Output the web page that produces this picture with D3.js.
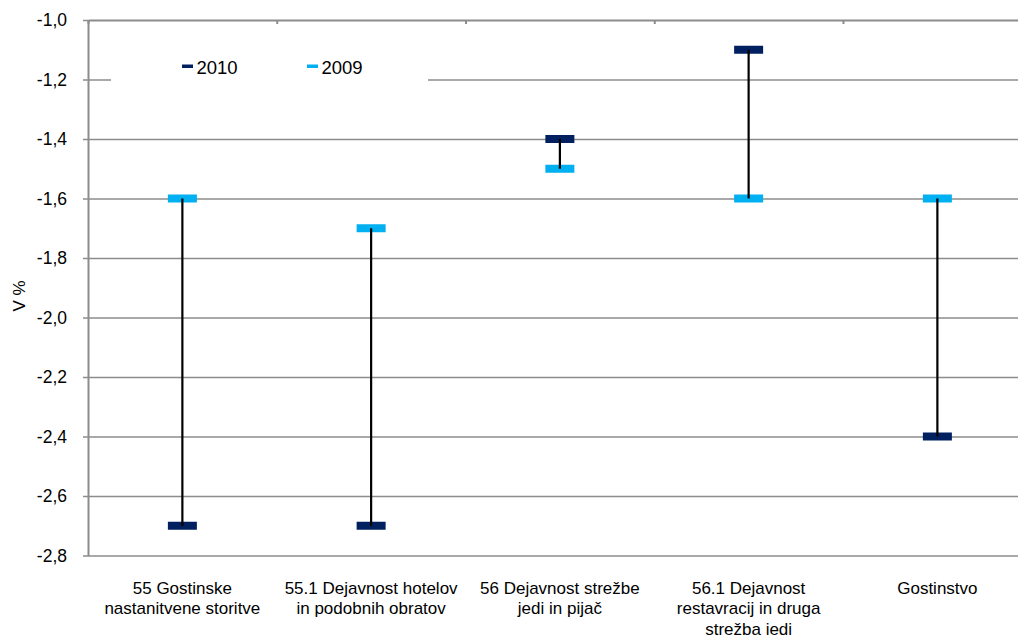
<!DOCTYPE html>
<html>
<head>
<meta charset="utf-8">
<script src="https://cdn.jsdelivr.net/npm/d3@7"></script>
<style>
  html, body { margin: 0; padding: 0; background: #fff; }
  svg { display: block; font-family: "Liberation Sans", Arial, sans-serif; }
</style>
</head>
<body>
<svg id="chart" width="1018" height="635"></svg>
<script>
// ---- data ----
const categories = [
  "55 Gostinske\nnastanitvene storitve",
  "55.1 Dejavnost hotelov\nin podobnih obratov",
  "56 Dejavnost strežbe\njedi in pijač",
  "56.1 Dejavnost\nrestavracij in druga\nstrežba jedi",
  "Gostinstvo"
];
const values2010 = [-2.7, -2.7, -1.4, -1.1, -2.4];
const values2009 = [-1.6, -1.7, -1.5, -1.6, -1.6];
const seriesNames = ["2010", "2009"];
const yTicks = [-1.0, -1.2, -1.4, -1.6, -1.8, -2.0, -2.2, -2.4, -2.6, -2.8];
const yTitle = "V %";

// ---- layout ----
const svg = d3.select("#chart");
const pLeft = 88, pRight = 1031.75, pTop = 20, pBottom = 555.5;
const colors = { "2010": "#002060", "2009": "#00B0F0" };
const gridColor = "#8c8c8c";

const x = d3.scaleBand().domain(categories).range([pLeft, pRight]).padding(0);
const y = d3.scaleLinear().domain([-2.8, -1.0]).range([pBottom, pTop]);
const xb = d3.scaleLinear().domain([0, categories.length]).range([pLeft, pRight]);

const locale = d3.formatLocale({ decimal: ",", thousands: ".", grouping: [3], currency: ["", "€"], minus: "-" });
const fmt = locale.format(".1f");

// gridlines
const grid = svg.append("g")
  .attr("transform", `translate(${pLeft},0)`)
  .call(d3.axisLeft(y).tickValues(yTicks.filter(v => v !== -1.0)).tickSize(-(pRight - pLeft)).tickFormat(""));
grid.select(".domain").remove();
grid.selectAll("line").attr("stroke", gridColor).attr("stroke-width", 1.5);

// legend box (white) covering gridline
const legendG = svg.append("g");
legendG.append("rect").attr("x", 111).attr("y", 46).attr("width", 317).attr("height", 42).attr("fill", "#fff");

// y axis
const yAxis = svg.append("g")
  .attr("transform", `translate(${pLeft},0)`)
  .call(d3.axisLeft(y).tickValues(yTicks).tickFormat(fmt).tickSize(5).tickPadding(16).tickSizeOuter(0));
yAxis.select(".domain").attr("stroke", gridColor).attr("stroke-width", 2);
yAxis.selectAll("line").attr("stroke", gridColor).attr("stroke-width", 1.5);
yAxis.selectAll("text").attr("font-size", "17.5px").attr("fill", "#000")
  .attr("font-family", "Liberation Sans, Arial, sans-serif");

// top axis (category axis line at -1,0)
const topAxis = svg.append("g")
  .attr("transform", `translate(0,${pTop})`)
  .call(d3.axisTop(xb).tickValues(d3.range(0, categories.length + 1)).tickSize(-4).tickFormat("").tickSizeOuter(0));
topAxis.select(".domain").attr("stroke", gridColor).attr("stroke-width", 2);
topAxis.selectAll("line").attr("stroke", gridColor).attr("stroke-width", 2);

// category labels
const catG = svg.append("g");
categories.forEach((c, i) => {
  const t = catG.append("text")
    .attr("x", x(c) + x.bandwidth() / 2)
    .attr("y", 593.5)
    .attr("text-anchor", "middle")
    .attr("font-size", "17px")
    .attr("fill", "#000");
  c.split("\n").forEach((line, j) => {
    t.append("tspan").attr("x", x(c) + x.bandwidth() / 2).attr("dy", j === 0 ? 0 : 20.5).text(line);
  });
});

// y title
svg.append("text")
  .attr("transform", `translate(25,296) rotate(-90)`)
  .attr("text-anchor", "middle")
  .attr("font-size", "17px")
  .attr("fill", "#000")
  .text(yTitle);

// markers
const mw = 29, mh = 8;
const data = categories.map((c, i) => ({ c, v2010: values2010[i], v2009: values2009[i] }));
const markG = svg.append("g");
markG.selectAll(".m2009").data(data).join("rect")
  .attr("x", d => x(d.c) + x.bandwidth() / 2 - mw / 2)
  .attr("y", d => y(d.v2009) - mh / 2)
  .attr("width", mw).attr("height", mh)
  .attr("fill", colors["2009"]);
markG.selectAll(".m2010").data(data).join("rect")
  .attr("x", d => x(d.c) + x.bandwidth() / 2 - mw / 2)
  .attr("y", d => y(d.v2010) - mh / 2)
  .attr("width", mw).attr("height", mh)
  .attr("fill", colors["2010"]);
// high-low lines
markG.selectAll(".hl").data(data).join("line")
  .attr("x1", d => x(d.c) + x.bandwidth() / 2)
  .attr("x2", d => x(d.c) + x.bandwidth() / 2)
  .attr("y1", d => y(d.v2010))
  .attr("y2", d => y(d.v2009))
  .attr("stroke", "#000").attr("stroke-width", 2.2);

// legend entries
const legendX = [182, 307];
seriesNames.forEach((s, i) => {
  legendG.append("rect").attr("x", legendX[i]).attr("y", 64.5).attr("width", 11).attr("height", 3.5).attr("fill", colors[s]);
  legendG.append("text").attr("x", legendX[i] + 14.5).attr("y", 73.5)
    .attr("font-size", "18.5px").attr("fill", "#000").text(s);
});
</script>
</body>
</html>
